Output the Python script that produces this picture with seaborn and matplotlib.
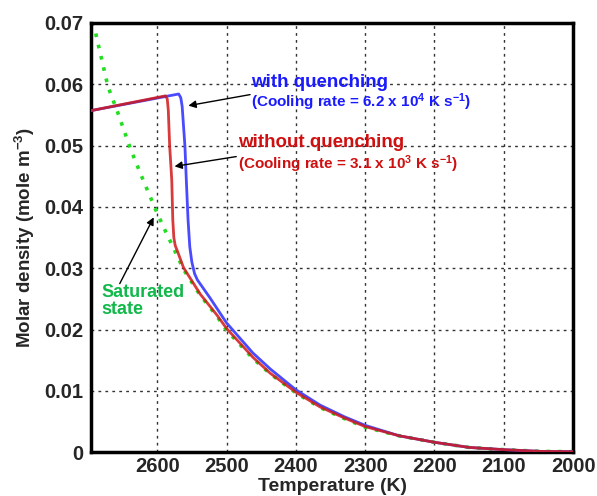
import matplotlib
matplotlib.use("Agg")
import matplotlib.pyplot as plt
import seaborn as sns
import pandas as pd

# ---- data ----
T_sat = [2695, 2689, 2671, 2656, 2639, 2620, 2602, 2590, 2576, 2562, 2538, 2514, 2500,
         2462, 2437, 2400, 2365, 2330, 2300, 2251, 2200, 2150, 2100, 2047, 2000]
sat = [0.0700, 0.0684, 0.0596, 0.0551, 0.0496, 0.0443, 0.0395, 0.0365, 0.0332, 0.0298,
       0.0256, 0.0222, 0.0199, 0.0153, 0.0128, 0.0097, 0.0073, 0.0055, 0.0041, 0.0027,
       0.00164, 0.0008, 0.00044, 0.00016, 0.0001]

T_red = [2695, 2588, 2585.5, 2584, 2582, 2579, 2577.5, 2576, 2574, 2571.5, 2562, 2538,
         2514, 2500, 2462, 2437, 2400, 2365, 2330, 2300, 2251, 2200, 2150, 2100, 2047, 2000]
red = [0.0557, 0.0581, 0.0576, 0.0558, 0.0499, 0.0444, 0.0379, 0.0350, 0.0337, 0.0330,
       0.0301, 0.0258, 0.0224, 0.0202, 0.0155, 0.0129, 0.0098, 0.0074, 0.0056, 0.0042,
       0.0027, 0.00164, 0.0008, 0.00044, 0.00016, 0.0001]

T_blue = [2695, 2569, 2566, 2564, 2560, 2558, 2555.5, 2553, 2550, 2546, 2542, 2524,
          2500, 2462, 2437, 2400, 2365, 2330, 2300, 2251, 2200, 2150, 2100, 2047, 2000]
blue = [0.0557, 0.0584, 0.0578, 0.0564, 0.0499, 0.0444, 0.0379, 0.0335, 0.0310, 0.0291,
        0.0281, 0.0252, 0.0211, 0.0162, 0.0136, 0.0102, 0.0077, 0.0058, 0.0044,
        0.0027, 0.00164, 0.0008, 0.00044, 0.00016, 0.0001]

x_ticks = [2600, 2500, 2400, 2300, 2200, 2100, 2000]
y_ticks = [0, 0.01, 0.02, 0.03, 0.04, 0.05, 0.06, 0.07]
y_tick_labels = ["0", "0.01", "0.02", "0.03", "0.04", "0.05", "0.06", "0.07"]

df_sat = pd.DataFrame({"T": T_sat, "rho": sat})
df_red = pd.DataFrame({"T": T_red, "rho": red})
df_blue = pd.DataFrame({"T": T_blue, "rho": blue})

sns.set_style("white")
plt.rcParams["font.family"] = ["Liberation Sans", "DejaVu Sans"]
plt.rcParams["font.weight"] = "bold"
plt.rcParams["mathtext.fontset"] = "custom"
plt.rcParams["mathtext.rm"] = "Liberation Sans:bold"
plt.rcParams["mathtext.it"] = "Liberation Sans:bold:italic"
plt.rcParams["mathtext.bf"] = "Liberation Sans:bold"
plt.rcParams["mathtext.default"] = "regular"

fig = plt.figure(figsize=(5.97, 4.96), dpi=100)
ax = fig.add_axes([0.153, 0.088, 0.807, 0.866])

sns.lineplot(data=df_sat, x="T", y="rho", ax=ax, sort=False, color="#22dd22",
             lw=2.6, linestyle=(0, (1, 2.2)), zorder=2)
sns.lineplot(data=df_blue, x="T", y="rho", ax=ax, sort=False, color="#4a4aff",
             lw=2.0, zorder=3)
sns.lineplot(data=df_red, x="T", y="rho", ax=ax, sort=False, color="#d01818",
             lw=2.0, alpha=0.85, zorder=4)

ax.set_xlim(2695, 2000)
ax.set_ylim(0, 0.07)
ax.set_xticks(x_ticks)
ax.set_xticklabels([str(v) for v in x_ticks])
ax.set_yticks(y_ticks)
ax.set_yticklabels(y_tick_labels)

ax.grid(True, color="#333333", linestyle=(0, (2, 3)), lw=1.0)
ax.set_axisbelow(True)
for s in ax.spines.values():
    s.set_linewidth(2.5)
    s.set_color("black")
ax.tick_params(axis="y", direction="in", length=9, width=2.2, labelsize=14.5,
               right=False, pad=6)
ax.tick_params(axis="x", direction="in", length=9, width=2.2, labelsize=14.5,
               top=False, pad=3)
for lab in ax.get_xticklabels() + ax.get_yticklabels():
    lab.set_fontweight("bold")

ax.set_xlabel("Temperature (K)", fontsize=14, fontweight="bold")
ax.xaxis.set_label_coords(0.5, -0.06)
ax.set_ylabel("Molar density (mole m$^{-3}$)", fontsize=13.5, fontweight="bold", labelpad=5)

# annotations
ax.text(2464, 0.0602, "with quenching", color="#1a1aff", fontsize=13.5,
        fontweight="bold", ha="left", va="center")
ax.text(2464, 0.0570, "(Cooling rate = 6.2 x 10$^{4}$ K s$^{-1}$)", color="#1a1aff",
        fontsize=11, fontweight="bold", ha="left", va="center")
ax.text(2484, 0.0505, "without quenching", color="#d01010", fontsize=13.5,
        fontweight="bold", ha="left", va="center")
ax.text(2484, 0.0469, "(Cooling rate = 3.1 x 10$^{3}$ K s$^{-1}$)", color="#d01010",
        fontsize=11, fontweight="bold", ha="left", va="center")
ax.text(2681, 0.0261, "Saturated", color="#11b84a", fontsize=13,
        fontweight="bold", ha="left", va="center")
ax.text(2681, 0.0233, "state", color="#11b84a", fontsize=13,
        fontweight="bold", ha="left", va="center")

arrow = dict(arrowstyle="-|>", color="black", lw=1.0, mutation_scale=11,
             shrinkA=0, shrinkB=0)
ax.annotate("", xy=(2555, 0.0565), xytext=(2466, 0.0583), arrowprops=arrow)
ax.annotate("", xy=(2575, 0.0466), xytext=(2486, 0.0482), arrowprops=arrow)
ax.annotate("", xy=(2605, 0.0383), xytext=(2654, 0.0275), arrowprops=arrow)

fig.savefig("out.png", dpi=100)
